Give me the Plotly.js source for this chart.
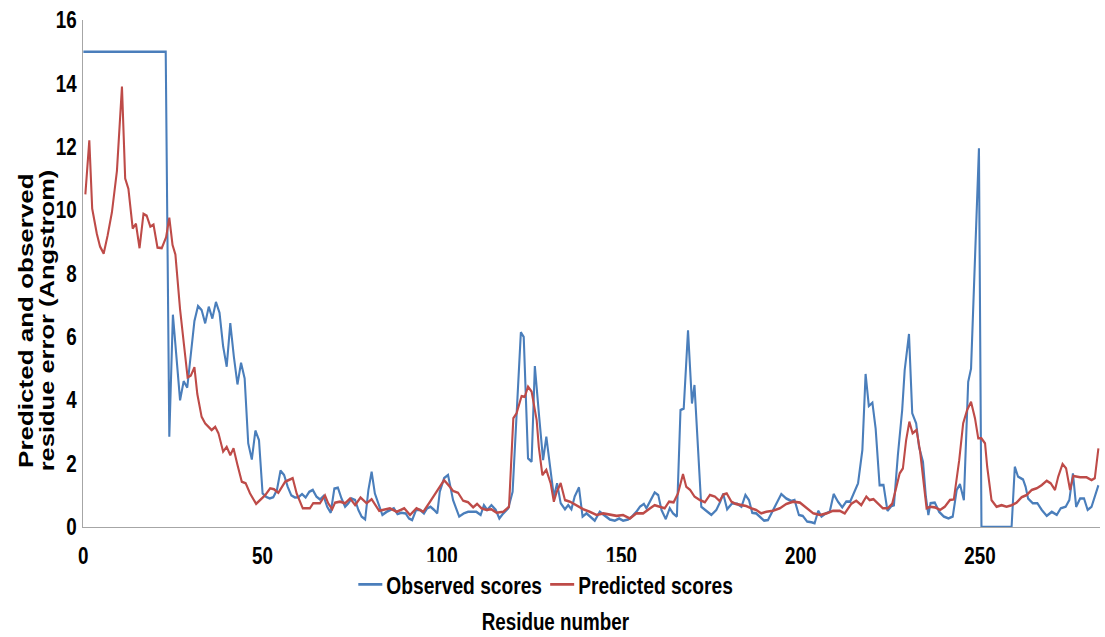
<!DOCTYPE html>
<html>
<head>
<meta charset="utf-8">
<script src="https://cdn.plot.ly/plotly-3.0.1.min.js"></script>
<style>
html,body{margin:0;padding:0;background:#fff;overflow:hidden;width:1105px;height:637px;}
#wrap{width:1105px;height:637px;overflow:hidden;position:relative;}
#chart{width:1381px;height:637px;transform:scale(0.80014,1);transform-origin:0 0;position:absolute;left:0;top:0;}
</style>
</head>
<body>
<div id="wrap"><div id="chart"></div></div>
<script>
// Observed scores (residue, error in Angstrom)
var obsResidue = [0,23,24,25,27,28,29,30,31,32,33,34,35,36,37,38,39,40,41,42,43,44,45,46,47,48,49,50,51,52,53,54,55,56,57,58,59,60,61,62,63,64,65,66,67,68,69,70,71,72,
  73,73.9,74.8,75.8,76.7,77.6,78.6,79.5,80.4,81.3,82.3,83.4,84.6,85.5,86.6,87.6,88.7,89.9,90.8,91.7,92.8,93.9,95,95.9,96.8,97.8,98.7,99.4,100.6,101.7,103.1,104.8,106.1,107.3,108.5,109.6,110.8,111.7,112.6,113.8,115,116,117.1,118.5,119.7,120.6,122,122.8,124,125,125.9,127.1,128.2,129.1,130.3,131.2,132.1,133.1,134.3,135.2,136.1,137,138.2,139.2,140.3,141.4,142.6,144,145.4,146.8,148.2,149.4,150.5,151.9,152.8,154.2,155.2,156.3,157,158.1,159.3,160.3,161.2,162.4,163.5,164.4,165.5,166.5,167.4,168.6,169.7,170.4,171.4,172.3,173.7,175.1,176.5,177.6,178.4,179.5,180.9,182.3,183.5,184.6,185.6,186.5,187.6,188.8,189.8,190.9,192.1,193.4,194.6,196,197.4,198.3,199.5,200.6,201.8,203,203.9,204.9,205.8,207,208.1,209.2,210.4,211.6,212.7,213.8,215,216,217.2,218.1,219,220,220.9,222,223.1,224.2,225.3,226,227.1,228.3,229,230.2,231.1,232.2,233,234.1,234.9,235.6,236.2,237.4,238.6,239.9,241.2,242.4,243.5,244.4,245.5,246.7,247.5,248.1,249.7,250.4,258.8,259.7,260.6,262,262.7,263.4,264.7,266,267.2,268.6,270,271.4,272.5,273.9,274.9,275.9,276.8,277.9,279,280,281.1,283];
var obsScore = [15,15,2.85,6.7,4.0,4.6,4.4,5.4,6.5,6.97,6.85,6.43,6.95,6.58,7.1,6.76,5.7,5.06,6.43,5.37,4.5,5.18,4.69,2.64,2.13,3.04,2.74,1.06,0.95,0.9,0.94,1.17,1.78,1.64,1.27,1.0,0.93,0.94,1.04,0.93,1.11,1.17,0.96,0.87,0.98,0.64,0.45,1.21,1.24,0.9,
  0.64,0.75,0.9,0.85,0.54,0.33,0.24,1.17,1.74,1.06,0.75,0.38,0.48,0.54,0.59,0.41,0.45,0.43,0.27,0.22,0.54,0.54,0.43,0.59,0.64,0.54,0.43,1.11,1.54,1.64,0.85,0.33,0.43,0.48,0.47,0.48,0.38,0.69,0.54,0.69,0.54,0.27,0.43,0.59,1.11,2.96,6.14,6.0,2.17,2.06,5.08,3.48,2.11,2.85,1.8,0.96,1.38,0.75,0.56,0.69,0.56,0.96,1.25,0.33,0.43,0.31,0.2,0.48,0.35,0.24,0.2,0.27,0.2,0.24,0.31,0.48,0.64,0.73,0.59,0.85,1.09,1.01,0.54,0.25,0.59,0.43,0.33,3.69,3.74,6.21,3.9,4.48,2.43,0.64,0.51,0.38,0.54,0.8,1.05,0.56,0.75,0.73,0.64,1.01,0.85,0.45,0.43,0.31,0.2,0.22,0.48,0.75,1.04,0.9,0.82,0.85,0.38,0.35,0.17,0.15,0.12,0.51,0.33,0.43,0.48,1.04,0.8,0.62,0.8,0.8,1.11,1.38,2.43,4.83,3.82,3.92,3.11,1.32,1.32,0.51,0.66,0.69,2.27,3.69,4.95,6.09,3.59,3.27,2.53,2.06,0.96,0.38,0.75,0.77,0.48,0.33,0.27,0.33,1.17,1.35,0.85,4.58,5.0,6.95,11.95,0,0,1.9,1.59,1.5,1.27,0.9,0.75,0.75,0.54,0.35,0.48,0.38,0.59,0.64,0.85,1.69,0.64,0.9,0.9,0.54,0.64,1.32];

// Predicted scores (residue, error in Angstrom)
var predResidue = [0.6,1.7,2.5,3.8,4.7,5.7,6.8,8,9.4,10.8,11.7,12.6,13.8,14.7,15.7,16.8,17.7,18.7,19.6,20.7,21.9,23.1,24,24.9,25.7,27,28.1,29.1,30,31,31.8,33,34,35,35.8,36.8,37.7,39,40,41,41.9,43,44.2,45.3,46.5,48.2,49.3,50.7,52.1,53.2,54.4,56.3,58.4,59.5,61.2,63.2,64.1,66,67.4,68.3,69.4,70.2,71.6,73,74.4,75.8,77.3,79,80.4,82.5,85.5,87.4,89.5,91.1,92.9,94.8,96.7,98.5,100.6,102.2,103.1,104.5,105.9,107.3,108.7,109.8,111,112.4,113.8,115.2,117.1,118.7,119.9,120.8,122.2,123.1,124,125,126.4,127,128,129.1,130.3,131.2,132,133.1,134.3,135.7,137.5,139.4,141.2,143.1,145,146.8,148.7,150.5,152.4,154.2,156.1,158,159.3,160.7,162.1,163.3,164.6,165.8,167.2,168.1,169.2,170.4,171.9,173.3,174.7,176.1,177.4,178.5,179.4,180.7,181.9,183.5,184.8,186.2,187.6,189,190.4,192.3,194.2,196,197.9,199.8,201.7,203.5,205.4,207.2,209,210.9,212.3,214.1,215.5,216.9,218.3,219.2,220.3,221.5,222.9,224.3,225.5,226.7,227.6,228.5,229.4,230.3,231.2,232.3,233.3,234.2,235.1,236.1,237.4,238.9,240.2,241.6,242.7,244.2,245.3,246.4,247.5,248.6,249.5,250.4,251.4,252,253.2,254.6,256,257.4,258.8,260.2,261.6,263,264.4,265.8,267.2,268.6,269.7,270.9,271.8,273,274,275.1,276,277.9,279.7,281.1,282,283];
var predScore = [10.5,12.2,10.05,9.25,8.85,8.63,9.2,9.93,11.24,13.9,11.0,10.67,9.42,9.57,8.8,9.88,9.82,9.48,9.54,8.82,8.8,9.14,9.76,8.9,8.6,6.87,5.74,4.72,4.78,5.04,4.2,3.48,3.27,3.16,3.06,3.16,2.96,2.38,2.53,2.27,2.48,1.96,1.43,1.38,1.06,0.73,0.85,1.0,1.22,1.19,1.08,1.43,1.54,1.06,0.59,0.59,0.75,0.75,1.0,0.75,0.56,0.77,0.8,0.75,0.9,0.69,0.93,0.75,0.88,0.51,0.59,0.48,0.59,0.38,0.59,0.48,0.8,1.11,1.48,1.27,1.14,1.08,0.83,0.78,0.62,0.73,0.59,0.54,0.56,0.45,0.48,0.64,3.43,3.59,4.13,4.11,4.43,4.27,3.38,2.53,1.64,1.8,1.38,0.8,1.11,1.38,0.85,0.8,0.69,0.56,0.48,0.38,0.43,0.38,0.35,0.38,0.27,0.43,0.43,0.59,0.69,0.64,0.59,0.8,0.78,1.06,1.67,1.27,1.17,0.96,0.85,0.78,1.01,0.96,0.82,1.03,1.06,0.8,0.73,0.69,0.66,0.59,0.54,0.43,0.48,0.51,0.59,0.73,0.8,0.77,0.59,0.43,0.38,0.43,0.51,0.51,0.43,0.73,0.83,0.69,0.96,0.85,0.88,0.75,0.59,0.59,0.73,1.27,1.69,1.85,2.74,3.32,2.96,3.06,2.38,1.48,0.59,0.64,0.62,0.54,0.64,0.85,0.87,2.11,3.27,3.69,3.95,3.43,2.8,2.8,2.64,1.9,0.85,0.64,0.69,0.64,0.69,0.77,0.94,1.01,1.17,1.22,1.32,1.46,1.38,1.17,1.59,1.99,1.85,1.17,1.61,1.57,1.57,1.48,1.54,2.48];

var seriesNames = ["Observed scores", "Predicted scores"];
var xTicks = [0, 50, 100, 150, 200, 250];
var yTicks = [0, 2, 4, 6, 8, 10, 12, 14, 16];

var sans = '"Liberation Sans", Arial, sans-serif';

var traces = [
  {x: obsResidue, y: obsScore, type: 'scatter', mode: 'lines', name: seriesNames[0],
   line: {color: '#4a7ebb', width: 2.6}},
  {x: predResidue, y: predScore, type: 'scatter', mode: 'lines', name: seriesNames[1],
   line: {color: '#be4b48', width: 2.6}}
];

var layout = {
  width: 1381, height: 637,
  margin: {l: 104, r: 6, t: 20, b: 110},
  paper_bgcolor: '#ffffff', plot_bgcolor: '#ffffff',
  showlegend: true,
  legend: {orientation: 'h', x: 0.455, xanchor: 'center', y: -0.114, yanchor: 'middle',
    font: {family: sans, size: 24, color: '#000', weight: 'bold'}, tracegroupgap: 0},
  xaxis: {range: [0, 283.5], tickvals: xTicks, ticktext: xTicks.map(String),
    showgrid: false, zeroline: false, showline: true, linecolor: '#a6a6a6', linewidth: 1.3,
    ticks: 'outside', ticklen: 8, tickcolor: 'rgba(0,0,0,0)',
    tickfont: {family: sans, size: 23.5, color: '#000', weight: 'bold'}},
  yaxis: {range: [0, 16], tickvals: yTicks, ticktext: yTicks.map(String),
    showgrid: false, zeroline: false, showline: true, linecolor: '#a6a6a6', linewidth: 1.5,
    ticks: 'outside', ticklen: 2, tickcolor: 'rgba(0,0,0,0)',
    tickfont: {family: sans, size: 23.5, color: '#000', weight: 'bold'}},
  annotations: [
    {text: '<b>Residue number</b>', xref: 'paper', yref: 'paper', x: 0.464, y: -0.187,
     xanchor: 'center', yanchor: 'middle', showarrow: false,
     font: {family: sans, size: 23.5, color: '#000'}},
    {text: '<b>Predicted and observed</b>', xref: 'paper', yref: 'paper',
     x: -0.056, y: 0.408, xanchor: 'center', yanchor: 'middle', textangle: -90, showarrow: false,
     font: {family: sans, size: 26, color: '#000'}},
    {text: '<b>residue error (Angstrom)</b>', xref: 'paper', yref: 'paper',
     x: -0.036, y: 0.408, xanchor: 'center', yanchor: 'middle', textangle: -90, showarrow: false,
     font: {family: sans, size: 25.5, color: '#000'}}
  ]
};

Plotly.newPlot('chart', traces, layout, {displayModeBar: false, staticPlot: true});
</script>
</body>
</html>
